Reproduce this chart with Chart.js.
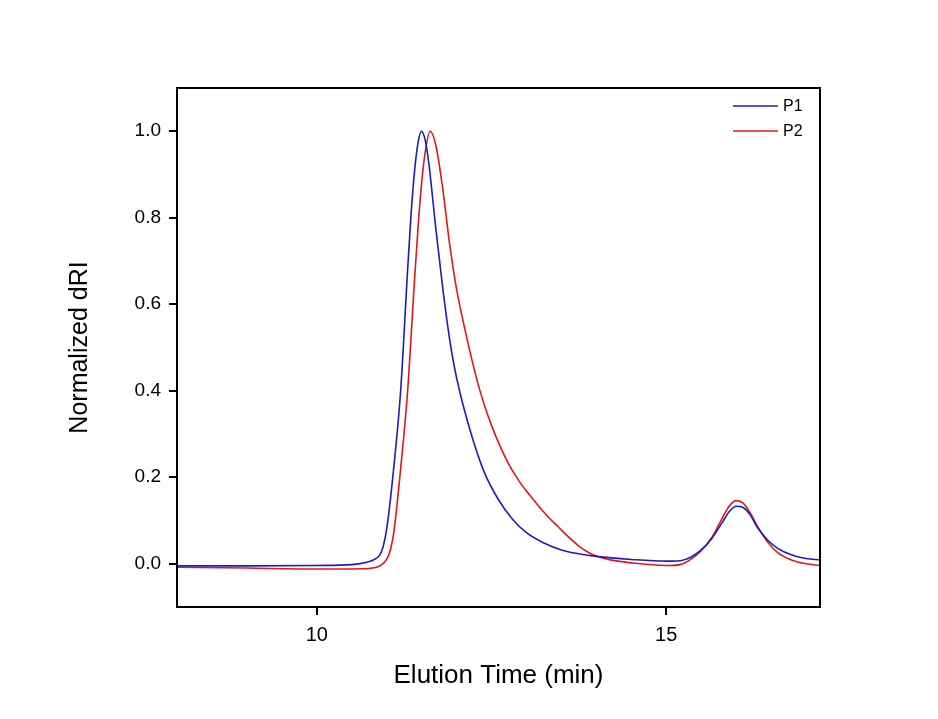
<!DOCTYPE html>
<html lang="en">
<head>
  <meta charset="UTF-8">
  <title>Normalized dRI vs Elution Time</title>
  <style>
    html, body { margin: 0; padding: 0; background: #fff; }
    canvas { display: block; }
  </style>
  <script src="https://cdn.jsdelivr.net/npm/chart.js"></script>
</head>
<body>
  <canvas id="chart" width="938" height="719"></canvas>
  <script>
    // Data (elution time in min, normalized dRI)
    const p1Time = [8.0, 9.0, 10.0, 10.5, 10.7, 10.8, 10.9, 10.95, 11.0, 11.1, 11.2, 11.3, 11.35, 11.4, 11.45, 11.5,
      11.55, 11.6, 11.7, 11.8, 11.9, 12.0, 12.2, 12.4, 12.6, 12.8, 13.0, 13.25, 13.5, 13.75, 14.0, 14.5,
      15.0, 15.2, 15.35, 15.5, 15.65, 15.8, 15.9, 16.0, 16.1, 16.2, 16.3, 16.45, 16.6, 16.8, 17.0, 17.2];
    const p1Value = [-0.005, -0.005, -0.004, -0.002, 0.003, 0.008, 0.02, 0.04, 0.08, 0.22, 0.40, 0.68, 0.81, 0.91, 0.975, 1.0,
      0.98, 0.93, 0.78, 0.64, 0.52, 0.43, 0.305, 0.21, 0.148, 0.103, 0.072, 0.048, 0.032, 0.023, 0.017, 0.01,
      0.006, 0.007, 0.015, 0.032, 0.058, 0.095, 0.12, 0.133, 0.13, 0.113, 0.085, 0.055, 0.035, 0.02, 0.012, 0.009];

    const p2Time = [8.0, 9.0, 10.0, 10.5, 10.8, 10.9, 11.0, 11.05, 11.1, 11.2, 11.3, 11.4, 11.45, 11.5, 11.55, 11.62,
      11.7, 11.8, 11.9, 12.0, 12.15, 12.3, 12.4, 12.5, 12.6, 12.75, 12.9, 13.0, 13.15, 13.3, 13.45, 13.6, 13.75, 13.9,
      14.05, 14.2, 14.5, 15.0, 15.2, 15.35, 15.5, 15.65, 15.8, 15.9, 16.0, 16.1, 16.2, 16.3, 16.45, 16.6, 16.8, 17.0, 17.2];
    const p2Value = [-0.008, -0.01, -0.012, -0.012, -0.01, -0.005, 0.01, 0.03, 0.07, 0.22, 0.40, 0.66, 0.78, 0.88, 0.95, 1.0,
      0.97, 0.87, 0.74, 0.635, 0.52, 0.42, 0.366, 0.32, 0.28, 0.229, 0.19, 0.168, 0.138, 0.11, 0.086, 0.062, 0.041, 0.025,
      0.015, 0.009, 0.002, -0.004, -0.002, 0.01, 0.03, 0.06, 0.105, 0.133, 0.146, 0.14, 0.118, 0.088, 0.05, 0.025, 0.008, 0.0, -0.004];

    const xTicks = [10, 15];
    const yTicks = [0.0, 0.2, 0.4, 0.6, 0.8, 1.0];
    const seriesNames = ['P1', 'P2'];
    const seriesColors = ['#1c1cc4', '#e3161c'];

    const FONT = "'Liberation Sans', Arial, sans-serif";

    const toPoints = (xs, ys) => xs.map((x, i) => ({ x, y: ys[i] }));

    // frame around plot area + legend drawn inside it
    const framePlugin = {
      id: 'frame',
      afterDraw(chart) {
        const { ctx, chartArea: a } = chart;
        ctx.save();
        ctx.strokeStyle = '#000';
        ctx.lineWidth = 2;
        ctx.strokeRect(a.left, a.top, a.right - a.left, a.bottom - a.top);

        ctx.font = '16px ' + FONT;
        ctx.textBaseline = 'middle';
        ctx.textAlign = 'left';
        chart.data.datasets.forEach((ds, i) => {
          const y = 106 + i * 25;
          ctx.strokeStyle = ds.borderColor;
          ctx.lineWidth = 1.5;
          ctx.beginPath();
          ctx.moveTo(733, y);
          ctx.lineTo(778, y);
          ctx.stroke();
          ctx.fillStyle = '#000';
          ctx.fillText(ds.label, 783, y + 1);
        });
        ctx.restore();
      }
    };

    new Chart(document.getElementById('chart'), {
      type: 'line',
      data: {
        datasets: [
          { label: seriesNames[0], data: toPoints(p1Time, p1Value), borderColor: seriesColors[0] },
          { label: seriesNames[1], data: toPoints(p2Time, p2Value), borderColor: seriesColors[1] }
        ].map(ds => Object.assign(ds, {
          borderWidth: 1.6, pointRadius: 0, fill: false, cubicInterpolationMode: 'monotone'
        }))
      },
      options: {
        responsive: false,
        animation: false,
        layout: { padding: { left: 60, top: 88, right: 118, bottom: 12 } },
        plugins: { legend: { display: false }, tooltip: { enabled: false } },
        scales: {
          x: {
            type: 'linear', min: 8, max: 17.2,
            afterBuildTicks: axis => { axis.ticks = xTicks.map(v => ({ value: v })); },
            afterFit: axis => { axis.height = 100; },
            grid: { display: true, drawOnChartArea: false, drawTicks: true, tickLength: 8, color: '#000', lineWidth: 2 },
            border: { display: true, color: '#000', width: 2 },
            ticks: { color: '#000', font: { family: FONT, size: 20 }, padding: 8, maxRotation: 0 },
            title: { display: true, text: 'Elution Time (min)', color: '#000',
              font: { family: FONT, size: 26 }, padding: { top: 0, bottom: 16 } }
          },
          y: {
            type: 'linear', min: -0.1, max: 1.1,
            afterBuildTicks: axis => { axis.ticks = yTicks.map(v => ({ value: v })); },
            afterFit: axis => { axis.width = 117; },
            grid: { display: true, drawOnChartArea: false, drawTicks: true, tickLength: 8, color: '#000', lineWidth: 2 },
            border: { display: true, color: '#000', width: 2 },
            ticks: { color: '#000', font: { family: FONT, size: 19 }, padding: 8,
              callback: v => v.toFixed(1) },
            title: { display: true, text: 'Normalized dRI', color: '#000',
              font: { family: FONT, size: 25 }, padding: { top: 5, bottom: 0 } }
          }
        }
      },
      plugins: [framePlugin]
    });
  </script>
</body>
</html>
